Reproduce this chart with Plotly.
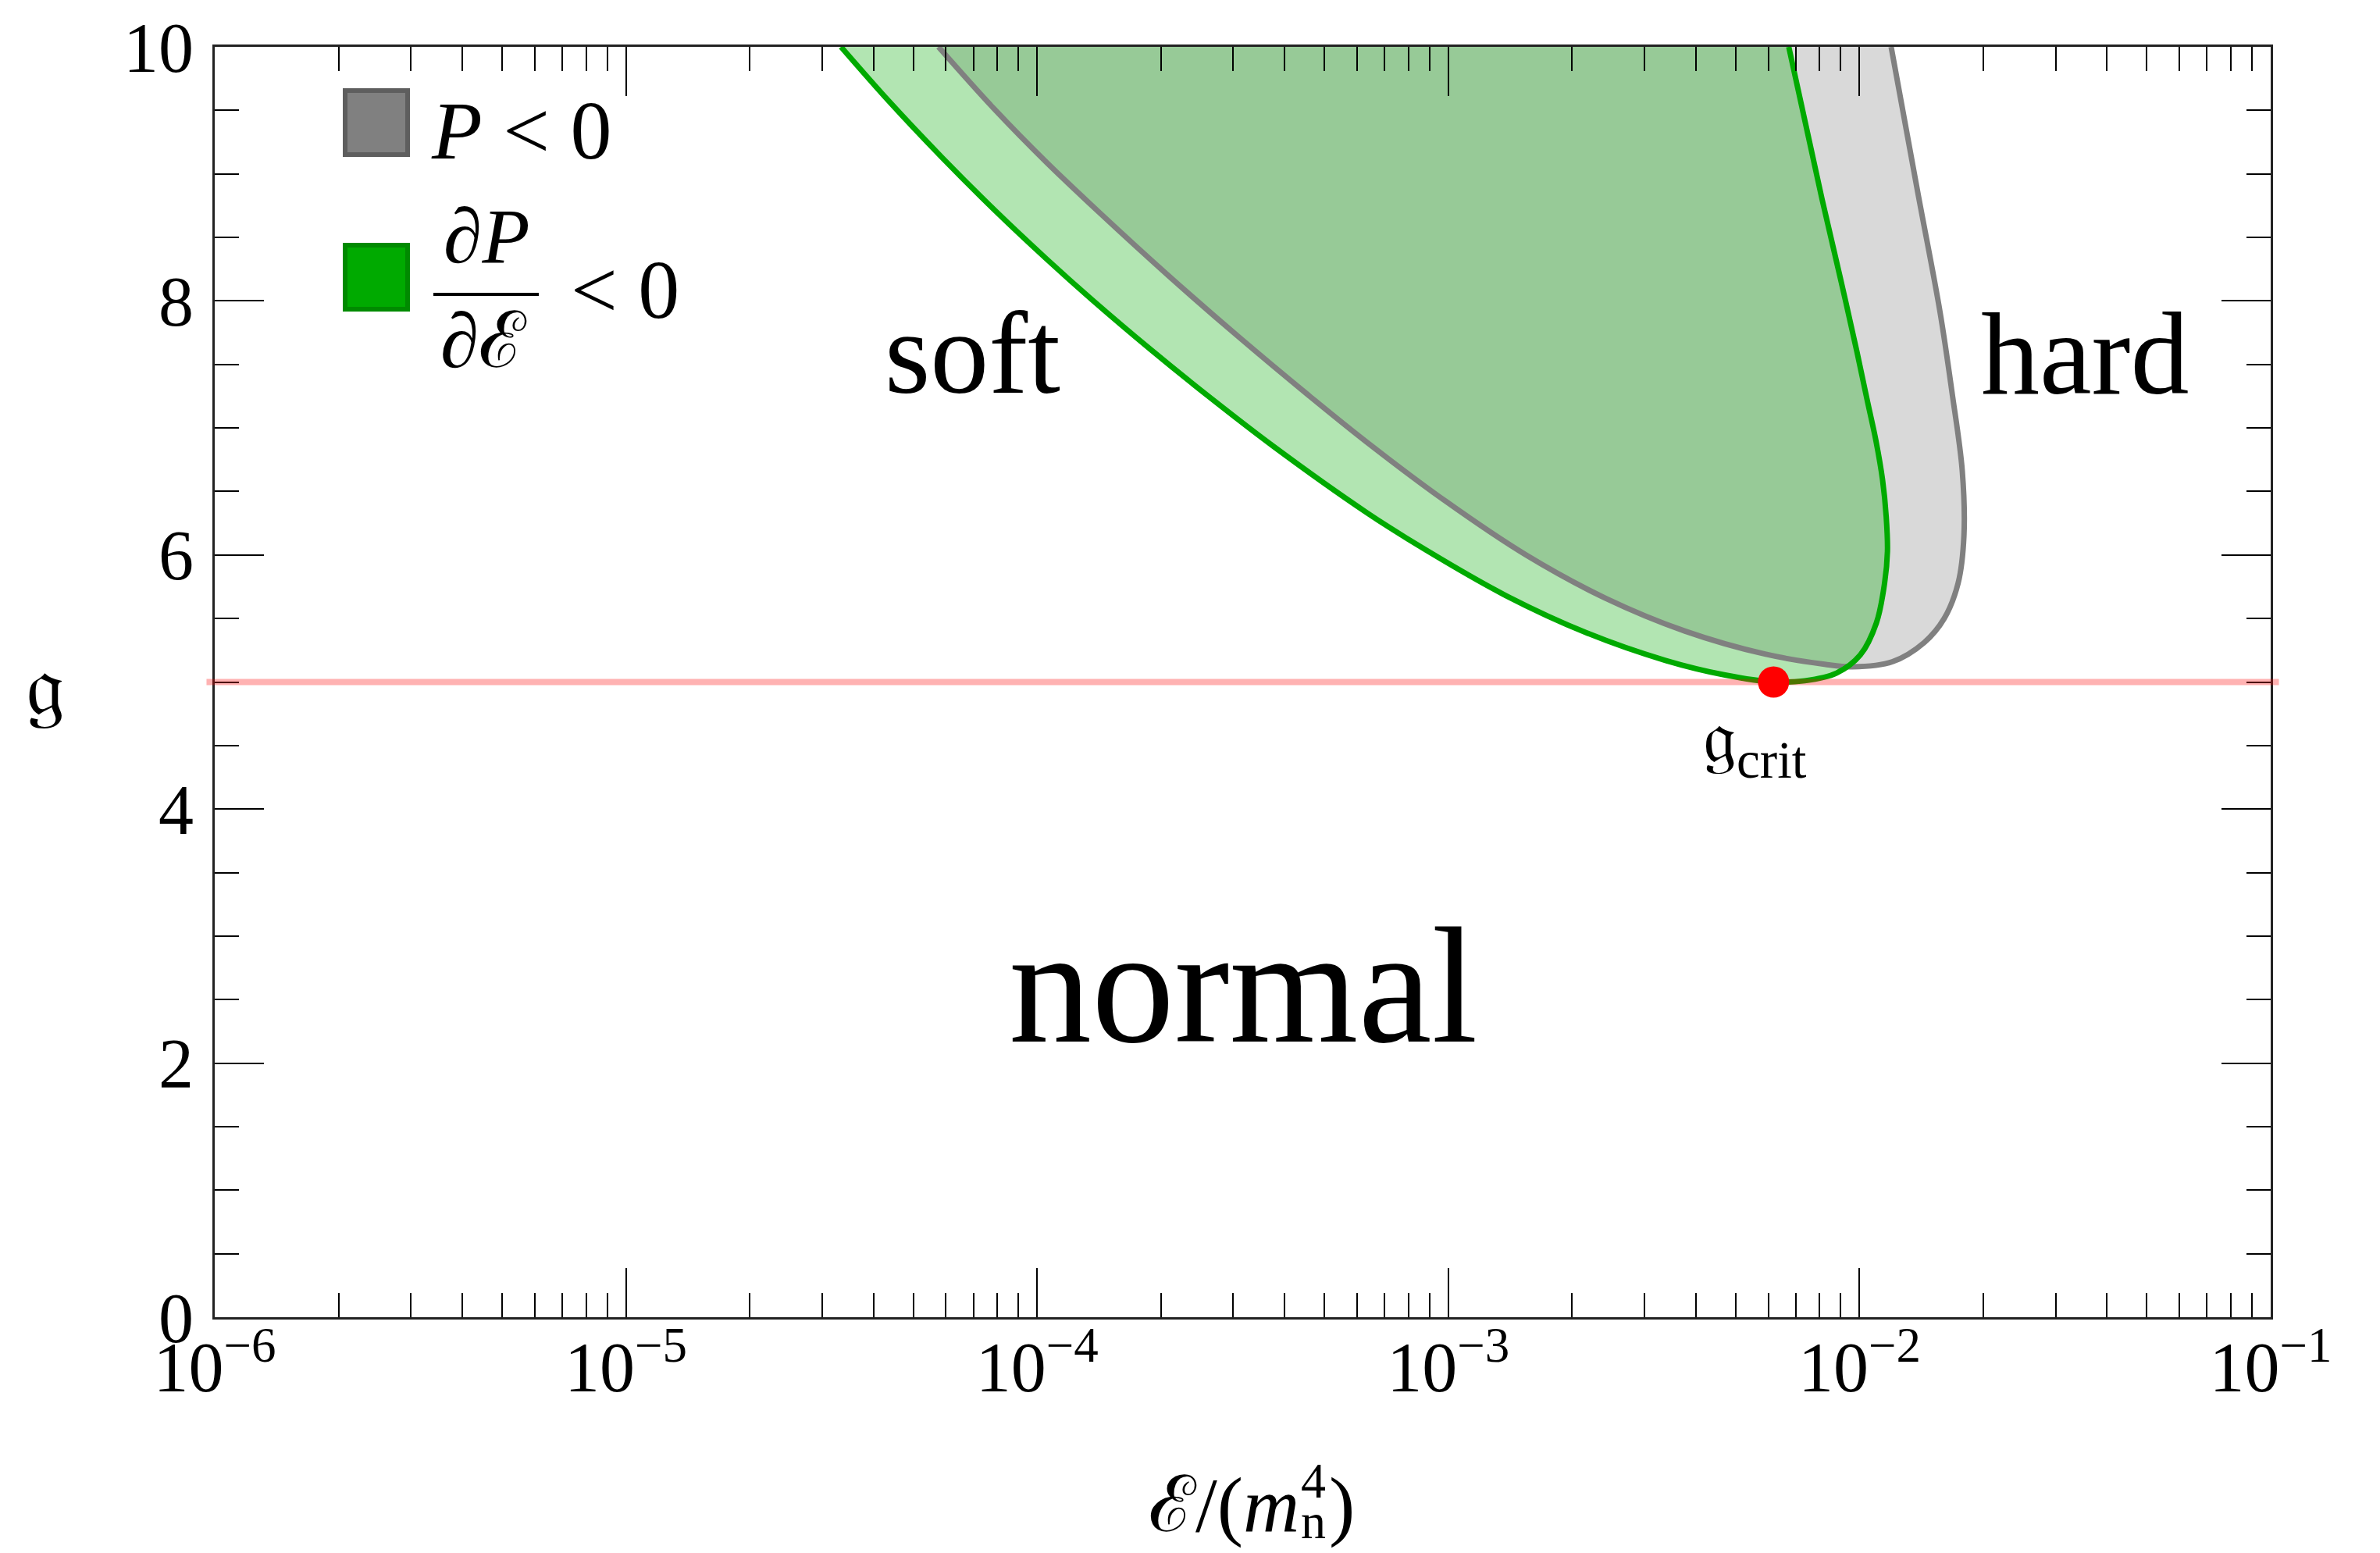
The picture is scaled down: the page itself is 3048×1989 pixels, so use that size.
import numpy as np
import plotly.graph_objects as go

# Boundary of the P < 0 region, traced as (log10 E, g)
gray_logE = [-4.240, -4.104, -3.977, -3.850, -3.681, -3.511, -3.341, -3.199, -3.005,
             -2.811, -2.618, -2.424, -2.230, -2.085, -2.017, -1.920, -1.843, -1.794,
             -1.760, -1.746, -1.750, -1.775, -1.804, -1.858, -1.923]
gray_g = [10.0, 9.51, 9.09, 8.70, 8.20, 7.72, 7.26, 6.89, 6.42,
          6.00, 5.66, 5.40, 5.22, 5.14, 5.12, 5.16, 5.31, 5.50,
          5.78, 6.15, 6.66, 7.28, 7.91, 8.85, 10.0]

# Boundary of the dP/dE < 0 region
green_logE = [-4.477, -4.359, -4.231, -4.104, -3.977, -3.867, -3.723, -3.596, -3.426,
              -3.199, -3.054, -2.860, -2.666, -2.472, -2.327, -2.209, -2.133, -2.056,
              -1.998, -1.959, -1.939, -1.932, -1.935, -1.944, -1.960, -1.980, -2.006,
              -2.048, -2.091, -2.172]
green_g = [10.0, 9.567, 9.128, 8.717, 8.330, 8.011, 7.615, 7.282, 6.857,
           6.335, 6.038, 5.680, 5.390, 5.170, 5.055, 5.000, 5.010, 5.07,
           5.213, 5.464, 5.778, 6.029, 6.30, 6.593, 6.90, 7.20, 7.597,
           8.20, 8.80, 10.0]

# Critical point
crit_logE = -2.209
crit_g = 5.0

x_tickvals = [1e-6, 1e-5, 1e-4, 1e-3, 1e-2, 1e-1]
x_ticktext = ["10<sup>−6</sup>", "10<sup>−5</sup>", "10<sup>−4</sup>",
              "10<sup>−3</sup>", "10<sup>−2</sup>", "10<sup>−1</sup>"]
y_tickvals = [0, 2, 4, 6, 8, 10]

W, H = 3048, 1989
L, R, T, B = 275, 2908, 60, 1687
FONT = "Liberation Serif, DejaVu Serif, serif"


def px(x):
    return (x - L) / (R - L)


def py(y):
    return (B - y) / (B - T)


x_minor = [m * 10.0 ** k for k in range(-6, -1) for m in range(2, 10)]
curve = dict(shape="spline", smoothing=1.0)

fig = go.Figure()

# filled regions
fig.add_trace(go.Scatter(
    x=10 ** np.array(gray_logE), y=gray_g, mode="lines", fill="toself",
    fillcolor="rgba(128,128,128,0.3)", line=dict(width=0, **curve),
    hoverinfo="skip", showlegend=False))
fig.add_trace(go.Scatter(
    x=10 ** np.array(green_logE), y=green_g, mode="lines", fill="toself",
    fillcolor="rgba(0,170,0,0.3)", line=dict(width=0, **curve),
    hoverinfo="skip", showlegend=False))

# boundary curves
fig.add_trace(go.Scatter(
    x=10 ** np.array(gray_logE), y=gray_g, mode="lines",
    line=dict(color="#808080", width=7, **curve),
    hoverinfo="skip", showlegend=False))
fig.add_trace(go.Scatter(
    x=10 ** np.array(green_logE), y=green_g, mode="lines",
    line=dict(color="#00aa00", width=7, **curve),
    hoverinfo="skip", showlegend=False))

# critical point
fig.add_trace(go.Scatter(
    x=[10 ** crit_logE], y=[crit_g], mode="markers",
    marker=dict(color="#ff0000", size=40, line=dict(width=0)),
    hoverinfo="skip", showlegend=False, cliponaxis=False))

shapes = [
    # g = g_crit line
    dict(type="line", xref="paper", yref="y", x0=-0.004, x1=1.004, y0=crit_g, y1=crit_g,
         line=dict(color="rgba(255,0,0,0.3)", width=8), layer="above"),
    # legend swatches
    dict(type="rect", xref="paper", yref="paper", x0=px(442), x1=px(522), y0=py(116), y1=py(198),
         fillcolor="#808080", line=dict(color="#5e5e5e", width=6)),
    dict(type="rect", xref="paper", yref="paper", x0=px(442), x1=px(522), y0=py(314), y1=py(396),
         fillcolor="#00aa00", line=dict(color="#008a00", width=6)),
    # fraction bar
    dict(type="line", xref="paper", yref="paper", x0=px(555), x1=px(690), y0=py(377), y1=py(377),
         line=dict(color="black", width=4)),
]

annotations = [
    # legend labels
    dict(text="<i>P</i> < 0", x=px(550), y=py(168), xanchor="left", yanchor="middle",
         font=dict(size=106)),
    dict(text="∂<i>P</i>", x=px(623), y=py(303), xanchor="center", yanchor="middle",
         font=dict(size=100)),
    dict(text="∂ℰ", x=px(619), y=py(436), xanchor="center", yanchor="middle",
         font=dict(size=100)),
    dict(text="< 0", x=px(729), y=py(371), xanchor="left", yanchor="middle",
         font=dict(size=106)),
    # region names
    dict(text="soft", x=px(1245), y=py(452), xanchor="center", yanchor="middle",
         font=dict(size=150)),
    dict(text="hard", x=px(2670), y=py(453), xanchor="center", yanchor="middle",
         font=dict(size=150)),
    dict(text="normal", x=px(1592), y=py(1262), xanchor="center", yanchor="middle",
         font=dict(size=212)),
    # critical coupling label
    dict(text="𝔤<sub>crit</sub>", x=px(2247), y=py(950), xanchor="center", yanchor="middle",
         font=dict(size=96)),
    # y axis title
    dict(text="𝔤", x=px(58), y=py(878), xanchor="center", yanchor="middle",
         font=dict(size=112)),
    # x axis title: E/(m_n^4) with stacked sub/superscript
    dict(text="ℰ/(<i>m</i>", x=px(1666), y=py(1927), xanchor="right", yanchor="middle",
         font=dict(size=100)),
    dict(text="n", x=px(1664), y=py(1948), xanchor="left", yanchor="middle",
         font=dict(size=64)),
    dict(text="4", x=px(1664), y=py(1896), xanchor="left", yanchor="middle",
         font=dict(size=64)),
    dict(text=")", x=px(1700), y=py(1927), xanchor="left", yanchor="middle",
         font=dict(size=100)),
]
for a in annotations:
    a.update(xref="paper", yref="paper", showarrow=False)
    a["font"].update(family=FONT, color="black")

axis_common = dict(
    showline=True, linecolor="#222222", linewidth=3, mirror="ticks",
    ticks="inside", ticklen=63, tickwidth=2, tickcolor="black",
    showgrid=False, zeroline=False,
    tickfont=dict(family=FONT, size=90, color="black"),
)

fig.update_layout(
    width=W, height=H,
    margin=dict(l=L, r=W - R, t=T, b=H - B),
    paper_bgcolor="white", plot_bgcolor="white",
    shapes=shapes, annotations=annotations,
    xaxis=dict(type="log", range=[-6, -1], tickmode="array", tickvals=x_tickvals,
               ticktext=x_ticktext, ticklabelstandoff=-16,
               minor=dict(tickmode="array", tickvals=x_minor, ticks="inside", ticklen=31,
                          tickwidth=2, tickcolor="black"),
               **axis_common),
    yaxis=dict(range=[0, 10], tickmode="array", tickvals=y_tickvals, ticklabelstandoff=6,
               minor=dict(dtick=0.5, ticks="inside", ticklen=31, tickwidth=2, tickcolor="black"),
               **axis_common),
)

fig.write_html("out.html")
